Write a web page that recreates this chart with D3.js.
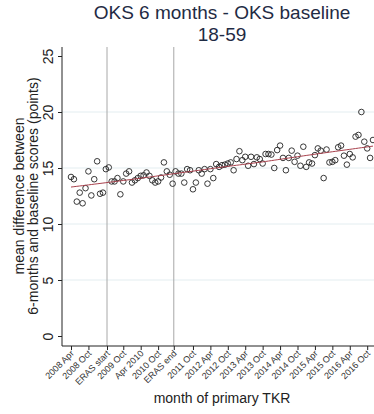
<!DOCTYPE html>
<html>
<head>
<meta charset="utf-8">
<script src="https://cdn.jsdelivr.net/npm/d3@7"></script>
<style>
  body { margin: 0; background: #fff; }
  text { font-family: "Liberation Sans", Arial, sans-serif; }
</style>
</head>
<body>
<div id="chart"></div>
<script>
// mean OKS change (6 months - baseline), one value per month from 2008 Apr
let oksDiff = [
  14.2, 14.0, 12.0, 12.8, 11.85, 13.2, 14.7, 12.55, 14.0, 15.6,
  12.7, 12.8, 14.9, 15.05, 13.8, 13.8, 14.1, 12.65, 13.8, 14.5,
  14.7, 13.7, 13.9, 14.1, 14.3, 14.35, 14.6, 14.3, 13.9, 13.7,
  13.8, 14.15, 15.5, 14.7, 14.4, 13.6, 14.7, 14.5, 14.5, 13.7,
  14.9, 14.8, 13.1, 13.7, 14.8, 14.5, 14.9, 13.6, 14.9, 14.1,
  15.35, 15.1, 15.25, 15.3, 15.4, 15.5, 14.8, 15.8, 16.5, 15.7,
  16.0, 15.2, 16.0, 15.35, 15.95, 15.8, 15.4, 16.25, 16.25, 16.2,
  15.0, 16.6, 17.0, 15.9, 14.8, 15.9, 16.55, 15.55, 16.1, 15.2,
  16.9, 15.1, 15.5, 15.4, 16.15, 16.75, 16.55, 14.1, 16.65, 15.5,
  15.55, 15.7, 16.85, 17.0, 16.1, 15.3, 16.25, 15.95, 17.8, 17.95,
  20.0, 17.35, 16.75, 15.9, 17.5
];

// x tick positions (months since 2008 Apr) and their labels
let tickMonths = [0, 6, 12.4, 18, 24, 30, 35.4, 42, 48, 54, 60, 66, 72, 78, 84, 90, 96, 102];
let tickLabels = ["2008 Apr", "2008 Oct", "ERAS start", "2009 Oct", "Apr 2010", "2010 Oct", "ERAS end",
  "2011 Oct", "2012 Apr", "2012 Oct", "2013 Apr", "2013 Oct", "2014 Apr", "2014 Oct",
  "2015 Apr", "2015 Oct", "2016 Apr", "2016 Oct"];
let erasMonths = [12.4, 35.4];
let yTicks = [0, 5, 10, 15, 20, 25];

let width = 374, height = 414;
let svg = d3.select('#chart').append('svg')
  .attr('width', width)
  .attr('height', height);

let x = d3.scaleLinear().domain([0, 104]).range([71, 373]);
let y = d3.scaleLinear().domain([0, 25]).range([336, 56]);

let plotTop = 47, plotLeft = 62, axisY = 346;

let data = oksDiff.map((v, i) => ({ m: i, v: v }));

// lowess (running line, tricube weights, bwidth 0.8) like stata's default
function lowess(pts, bw) {
  let n = pts.length;
  let k = Math.floor(bw * n);
  return pts.map(p => {
    let dists = pts.map(q => Math.abs(q.m - p.m)).sort((a, b) => a - b);
    let h = dists[Math.min(k, n - 1)] * 1.0001;
    let sw = 0, sx = 0, sy = 0, sxx = 0, sxy = 0;
    pts.forEach(q => {
      let u = Math.abs(q.m - p.m) / h;
      if (u >= 1) return;
      let w = Math.pow(1 - u * u * u, 3);
      sw += w; sx += w * q.m; sy += w * q.v;
      sxx += w * q.m * q.m; sxy += w * q.m * q.v;
    });
    let mx = sx / sw, my = sy / sw;
    let b = (sxy / sw - mx * my) / (sxx / sw - mx * mx);
    return { m: p.m, v: my + b * (p.m - mx) };
  });
}

// clip for plot region
svg.append('clipPath').attr('id', 'plotclip')
  .append('rect').attr('x', plotLeft).attr('y', plotTop).attr('width', width - plotLeft).attr('height', axisY - plotTop);

// gridlines
svg.selectAll('.grid')
  .data([5, 10, 15, 20])
  .enter().append('line').classed('grid', true)
  .attr('x1', plotLeft).attr('x2', width)
  .attr('y1', d => y(d)).attr('y2', d => y(d))
  .attr('stroke', '#e3edf0').attr('stroke-width', 1);

// ERAS lines
svg.selectAll('.eras')
  .data(erasMonths)
  .enter().append('line').classed('eras', true)
  .attr('x1', d => x(d)).attr('x2', d => x(d))
  .attr('y1', plotTop).attr('y2', axisY)
  .attr('stroke', '#a8a8a8').attr('stroke-width', 1);

let g = svg.append('g').attr('clip-path', 'url(#plotclip)');

g.selectAll('.circ')
  .data(data)
  .enter().append('circle').classed('circ', true)
  .attr('cx', d => x(d.m))
  .attr('cy', d => y(d.v))
  .attr('r', 2.8)
  .attr('fill', 'none')
  .attr('stroke', '#222')
  .attr('stroke-width', 0.9);

let fit = lowess(data, 0.8);
g.append('path')
  .datum(fit)
  .attr('fill', 'none')
  .attr('stroke', '#a8404c')
  .attr('stroke-width', 1)
  .attr('d', d3.line().x(d => x(d.m)).y(d => y(d.v)));

// y axis
let yAxis = d3.axisLeft(y).tickValues(yTicks).tickSize(4).tickFormat(d3.format('d'));
let yg = svg.append('g').attr('transform', 'translate(' + plotLeft + ',0)').call(yAxis);
yg.select('.domain').remove();
yg.append('line').attr('x1', 0).attr('x2', 0).attr('y1', plotTop).attr('y2', axisY).attr('stroke', '#222');
yg.selectAll('.tick line').attr('stroke', '#222');
yg.selectAll('.tick text')
  .attr('x', null).attr('dy', null)
  .attr('transform', 'translate(-9,0) rotate(-90)')
  .attr('text-anchor', 'middle')
  .attr('fill', '#222')
  .style('font-size', '14px');

// x axis
let xAxis = d3.axisBottom(x).tickValues(tickMonths).tickSize(4).tickFormat((d, i) => tickLabels[i]);
let xg = svg.append('g').attr('transform', 'translate(0,' + axisY + ')').call(xAxis);
xg.select('.domain').remove();
xg.append('line').attr('x1', plotLeft).attr('x2', width).attr('y1', 0).attr('y2', 0).attr('stroke', '#222');
xg.selectAll('.tick line').attr('stroke', '#222');
xg.selectAll('.tick text')
  .attr('y', null).attr('dy', null)
  .attr('transform', 'translate(3,8) rotate(-45)')
  .attr('text-anchor', 'end')
  .attr('fill', '#333')
  .style('font-size', '9px');

// titles
svg.append('text').attr('x', 222).attr('y', 19).attr('text-anchor', 'middle')
  .attr('fill', '#1f2b44').style('font-size', '19px').text('OKS 6 months - OKS baseline');
svg.append('text').attr('x', 222).attr('y', 41).attr('text-anchor', 'middle')
  .attr('fill', '#1f2b44').style('font-size', '19px').text('18-59');

svg.append('text').attr('x', 222).attr('y', 403).attr('text-anchor', 'middle')
  .attr('fill', '#222').style('font-size', '14px').text('month of primary TKR');

svg.append('text').attr('transform', 'translate(24,196) rotate(-90)').attr('text-anchor', 'middle')
  .attr('fill', '#222').style('font-size', '14px').text('mean difference between');
svg.append('text').attr('transform', 'translate(38,196) rotate(-90)').attr('text-anchor', 'middle')
  .attr('fill', '#222').style('font-size', '14px').text('6-months and baseline scores (points)');
</script>
</body>
</html>
